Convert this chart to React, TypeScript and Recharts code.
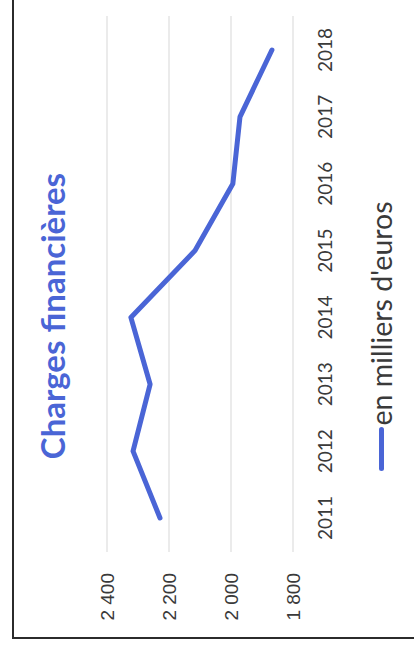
import React from 'react';
import { LineChart, Line, XAxis, YAxis, CartesianGrid, Legend } from 'recharts';

const years = ['2011', '2012', '2013', '2014', '2015', '2016', '2017', '2018'];
const charges = [2229, 2316, 2261, 2323, 2116, 1994, 1971, 1868];
const valueTicks = [1800, 2000, 2200, 2400];
const title = 'Charges financières';
const seriesName = "en milliers d'euros";

const data = years.map((y, i) => ({ year: y, value: charges[i] }));

const W = 652;
const H = 414;
const BLUE = '#4a65d6';
const TEXT = '#3a3a3a';

const fmt = (v: number) => {
  const s = String(v);
  return s.length > 3 ? s.slice(0, s.length - 3) + '\u00a0' + s.slice(-3) : s;
};

export default function App() {
  return (
    <>
      <style>{`html,body{margin:0;padding:0;overflow:hidden;background:#fff}`}</style>
      <div
        style={{
          position: 'absolute',
          left: 12,
          top: -10,
          width: 402,
          height: 649,
          borderLeft: '2px solid #2b2b2b',
          borderBottom: '2px solid #2b2b2b',
          boxSizing: 'border-box',
        }}
      />
      <div
        style={{
          position: 'absolute',
          left: 0,
          top: 0,
          width: W,
          height: H,
          transformOrigin: '0 0',
          transform: `rotate(-90deg) translateX(-${W}px)`,
        }}
      >
        <div
          style={{
            position: 'absolute',
            left: 10,
            top: 36,
            width: W,
            textAlign: 'center',
            fontFamily: 'Lato',
            fontWeight: 700,
            fontSize: 33,
            lineHeight: '33px',
            color: BLUE,
            whiteSpace: 'nowrap',
          }}
        >
          {title}
        </div>
        <LineChart width={W} height={H} data={data} margin={{ top: 107, right: 16, bottom: 91, left: 40 }}>
          <CartesianGrid vertical={false} stroke="#e4e4e4" strokeWidth={1.5} />
          <XAxis
            dataKey="year"
            axisLine={false}
            tickLine={false}
            tickSize={0}
            tickMargin={26}
            interval={0}
            padding={{ left: 34, right: 34 }}
            tick={{ fill: TEXT, fontSize: 19, fontFamily: 'Lato' }}
          />
          <YAxis
            domain={[1800, 2400]}
            ticks={valueTicks}
            axisLine={false}
            tickLine={false}
            tickSize={0}
            tickMargin={21}
            width={60}
            tickFormatter={fmt}
            tick={{ fill: TEXT, fontSize: 19, fontFamily: 'Liberation Sans' }}
          />
          <Legend
            verticalAlign="middle"
            layout="horizontal"
            align="center"
            wrapperStyle={{ top: 367, left: -10, width: W }}
            content={() => (
              <div
                style={{
                  display: 'flex',
                  alignItems: 'center',
                  justifyContent: 'center',
                  fontFamily: 'Lato',
                  fontSize: 28.5,
                  lineHeight: '28.5px',
                  color: TEXT,
                  whiteSpace: 'nowrap',
                }}
              >
                <span
                  style={{
                    display: 'inline-block',
                    width: 44,
                    height: 5,
                    background: BLUE,
                    borderRadius: 3,
                    marginRight: 1,
                  }}
                />
                <span>{seriesName}</span>
              </div>
            )}
          />
          <Line
            type="linear"
            dataKey="value"
            name={seriesName}
            stroke={BLUE}
            strokeWidth={5}
            strokeLinecap="round"
            strokeLinejoin="round"
            dot={false}
            isAnimationActive={false}
          />
        </LineChart>
      </div>
    </>
  );
}
